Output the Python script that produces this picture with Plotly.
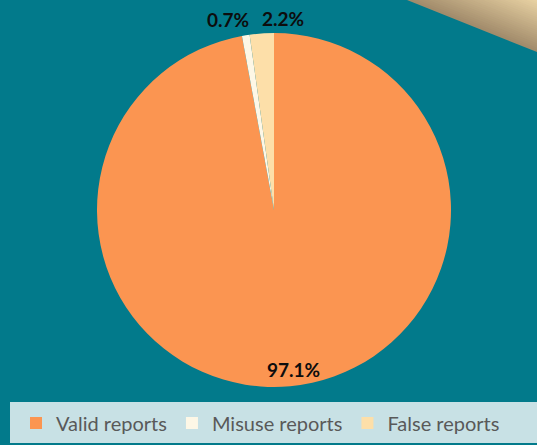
import plotly.graph_objects as go

labels = ["Valid reports", "Misuse reports", "False reports"]
values = [97.1, 0.7, 2.2]
colors = ["#fb9551", "#fdf7e6", "#fddfa9"]
label_text = ["97.1%", "0.7%", "2.2%"]

W, H = 537, 445
BG = "#027a8b"

def px(x, y):
    return x / W, 1 - y / H

def mix(c1, c2, t):
    a = [int(c1[i:i + 2], 16) for i in (1, 3, 5)]
    b = [int(c2[i:i + 2], 16) for i in (1, 3, 5)]
    return "#" + "".join(f"{round(a[k] + (b[k] - a[k]) * t):02x}" for k in range(3))

fig = go.Figure()
fig.add_trace(go.Pie(
    labels=labels, values=values, sort=False, direction="clockwise", rotation=0,
    marker=dict(colors=colors, line=dict(width=0)),
    textinfo="none", hoverinfo="label+percent",
    domain=dict(x=[(274 - 177) / W, (274 + 177) / W], y=[1 - 387 / H, 1 - 33 / H]),
))

shapes = []
# tan corner decoration with smooth banded gradient
n = 24
for i in range(n):
    t = i / n
    c = mix("#a08a6a", "#e9d2a3", (i + 0.5) / n)
    ax, ay = 407 + (537 - 407) * t, 0
    bx, by = 537, 52 * (1 - t)
    p1 = px(ax, ay); p2 = px(bx, by); p3 = px(537, 0)
    shapes.append(dict(type="path", xref="paper", yref="paper",
                       path=f"M{p1[0]},{p1[1]} L{p2[0]},{p2[1]} L{p3[0]},{p3[1]} Z",
                       fillcolor=c, line=dict(width=0), layer="below"))
# legend box
x0, y0 = px(10, 402)
x1, y1 = px(537, 443)
shapes.append(dict(type="rect", xref="paper", yref="paper", x0=x0, x1=x1, y0=y1, y1=y0,
                   fillcolor="#c8e1e5", line=dict(width=0), layer="below"))

ann_pos = [(293, 369), (228, 19), (283, 18)]
annotations = []
for t, (ax_, ay_) in zip(label_text, ann_pos):
    xx, yy = px(ax_, ay_)
    annotations.append(dict(text=f"<b>{t}</b>", x=xx, y=yy, xref="paper", yref="paper",
                            showarrow=False, xanchor="center", yanchor="middle",
                            font=dict(family="Lato", size=19, color="#0d0d0d")))

fig.update_layout(
    width=W, height=H, margin=dict(l=0, r=0, t=0, b=0),
    paper_bgcolor=BG, plot_bgcolor=BG,
    shapes=shapes, annotations=annotations,
    showlegend=True,
    legend=dict(orientation="h", x=16 / W, xanchor="left", y=1 - 423 / H, yanchor="middle",
                bgcolor="rgba(0,0,0,0)", font=dict(family="Lato", size=20, color="#595959"),
                traceorder="normal"),
)

fig.write_html("out.html", config={"displayModeBar": False},
               post_script="document.body.style.margin='0';document.body.style.overflow='hidden';")
